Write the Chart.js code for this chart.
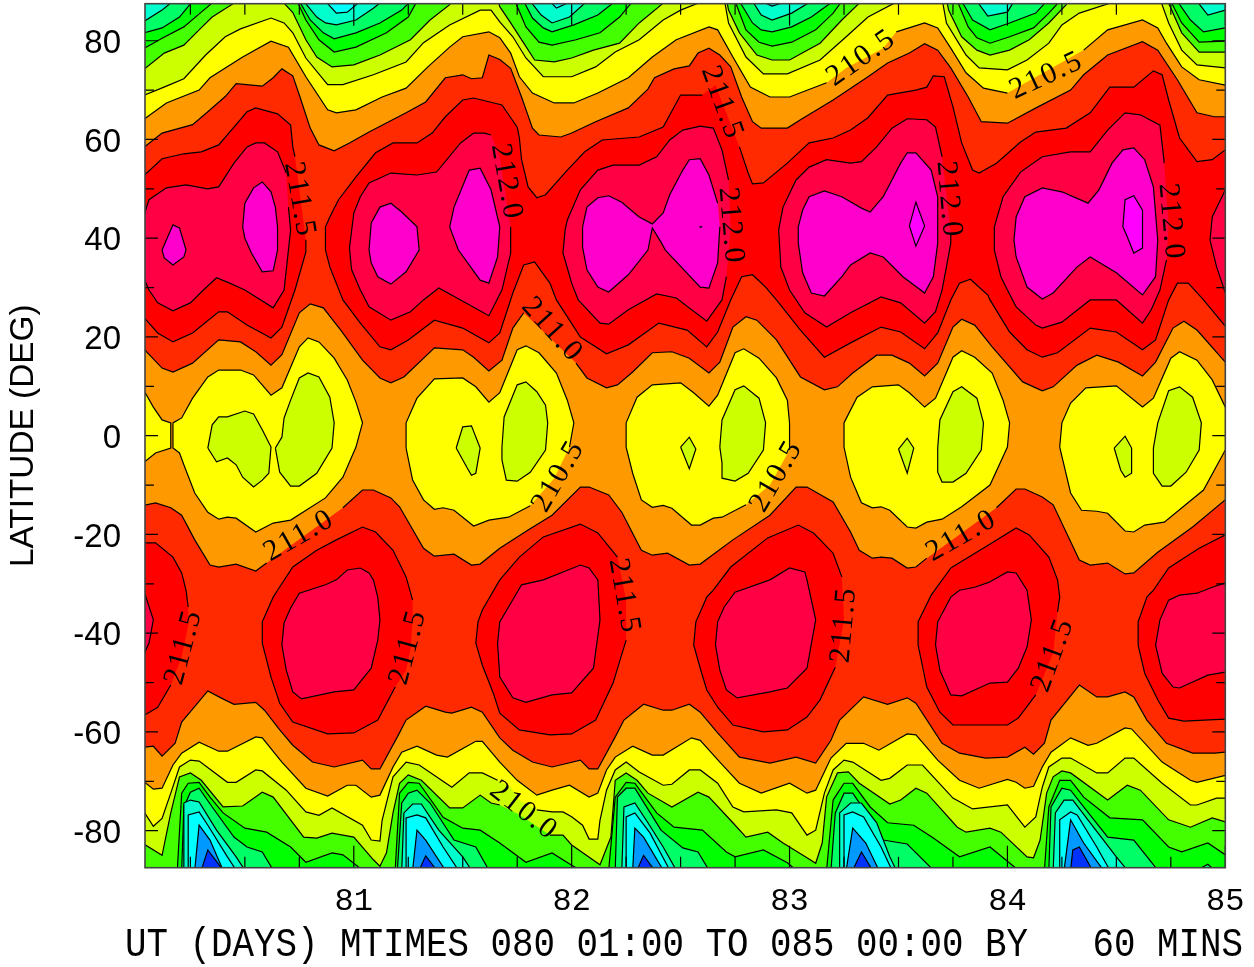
<!DOCTYPE html>
<html lang="en">
<head>
<meta charset="UTF-8">
<title>Latitude vs UT contours</title>
<script src="https://cdn.jsdelivr.net/npm/chart.js"></script>
<style>
  html, body { margin: 0; padding: 0; background: #fff; }
  canvas { display: block; }
</style>
</head>
<body>
<canvas id="chart" width="1254" height="967"></canvas>
<script>
// axis ticks
const dayLabels = [81, 82, 83, 84, 85];
const latLabels = [-80, -60, -40, -20, 0, 20, 40, 60, 80];
const dayMinor = [80.25, 80.5, 80.75, 81.25, 81.5, 81.75, 82.25, 82.5, 82.75, 83.25, 83.5, 83.75, 84.25, 84.5, 84.75];
const latMinor = [-70, -50, -30, -10, 10, 30, 50, 70];

// contour labels: text, day, lat, rotation
const labelText = ['210.5','210.5','211.5','212.0','211.5','212.0','212.0','212.0','211.0','211.0','210.5','210.5','211.0','211.5','211.5','211.5','211.5','211.5','210.0'];
const labelDay = [83.33,84.18,80.75,81.70,82.69,82.73,83.73,84.75,81.91,80.75,81.94,82.94,83.79,82.24,80.22,81.25,83.25,84.21,81.78];
const labelLat = [76.5,72.9,47.8,51.4,67.4,42.5,47.8,43.3,21.4,-20.3,-8.2,-8.2,-20.3,-32.5,-42.8,-42.8,-38.3,-44.4,-76];
const labelRot = [-35,-25,80,80,70,85,85,85,48,-30,-60,-60,-30,80,-75,-75,-85,-70,38];

// north side contours, left to right (day, lat, day, lat ...)
const nOrange = [80.04,58.5,80.12,61.3,80.26,63,80.33,65.6,80.41,68.7,80.46,71.3,80.58,70.8,80.63,72.5,80.67,74.3,80.72,72.9,80.75,69,80.8,62.3,80.84,58.9,80.91,57.7,80.98,59.3,81.07,61.5,81.24,65.4,81.33,67.6,81.42,72.5,81.5,73.1,81.54,72.3,81.59,72.5,81.62,77.1,81.67,76.2,81.72,74.4,81.77,68.6,81.82,62.3,81.85,60.9,81.95,60.5,82,61.3,82.11,63.6,82.26,66.4,82.35,70.2,82.38,72.5,82.47,74.3,82.54,74.9,82.58,77.5,82.63,78.5,82.68,77.1,82.73,74.7,82.78,68.6,82.83,63.6,82.87,62.3,82.99,62.3,83.05,64,83.2,68,83.36,72.7,83.45,75.5,83.55,77.5,83.62,79.4,83.68,78.1,83.74,74.5,83.82,68.6,83.88,63.6,84,63.3,84.14,66.6,84.29,70,84.35,73.1,84.46,77.1,84.62,79.8,84.69,78.1,84.78,72.1,84.87,65.4,84.95,64.6,85,64.6];
const nYellow = [80.04,64.2,80.14,67.4,80.29,70,80.34,72.5,80.49,76.7,80.62,79.9,80.7,78.7,80.78,72.7,80.88,66,80.92,65.4,81.01,66,81.13,68.6,81.24,70.4,81.34,74.7,81.44,78.7,81.5,80.8,81.62,81.8,81.67,80.6,81.72,77.5,81.76,72.7,81.82,69.4,81.92,67.4,82.01,67.4,82.12,69.4,82.26,72.5,82.37,76.7,82.48,80.2,82.63,82.8,82.67,82.2,82.74,76.7,82.82,70.6,82.91,68.6,83,68.6,83.17,71.5,83.26,74.5,83.43,78.5,83.49,81.8,83.62,83.6,83.68,82.6,83.74,78.5,83.81,73.5,83.89,70.4,84,69.4,84.35,78.1,84.46,82.2,84.62,84.2,84.69,82.6,84.73,79.5,84.8,74.7,84.88,72.1,85,71];
const nYellowGreen = [80.04,69,80.14,70.8,80.22,72.3,80.32,77.1,80.41,80.8,80.48,82.4,80.62,84.6,80.68,83.6,80.72,81.6,80.78,76.5,80.88,71.1,80.95,71.1,81.09,73.1,81.24,75.7,81.32,79.6,81.44,83.2,81.58,86.2,81.63,86.2,81.67,83.8,81.73,80.8,81.79,76.5,81.87,72.7,82,72.7,82.11,74.7,82.2,77.7,82.31,80.2,82.42,84.2,82.5,86.2,82.58,87.6,82.63,88.5,82.7,88.5,82.72,83.6,82.8,76.7,82.88,73.3,82.99,73.3,83.14,76.1,83.26,80.8,83.36,84.8,83.48,87.6,83.5,88.5,83.7,88.5,83.72,83.6,83.81,77.1,83.87,74.5,84,74.1,84.09,76.1,84.19,79.5,84.25,83.2,84.33,85.6,84.47,87.6,84.5,88.5,84.7,88.5,84.74,83.6,84.8,78.1,84.87,75.1,85,74.5];
const nLime = [80.04,74.3,80.13,77.5,80.22,79.1,80.29,82.2,80.35,84.8,80.45,87.6,80.46,88.5,80.67,88.5,80.68,87.6,80.72,85.7,80.78,80.2,80.83,76.7,80.9,74.7,81,75.1,81.12,77.1,81.26,80.2,81.35,84.2,81.44,87.3,81.45,88.5,81.66,88.5,81.67,86.9,81.72,83.6,81.78,79.5,81.83,76.1,81.92,75.7,82,76.5,82.1,78.1,82.22,79.5,82.31,83.6,82.42,87.6,82.43,88.5,82.71,88.5,82.72,86.2,82.77,81.6,82.85,77.1,82.92,76.1,83,76.1,83.14,79.5,83.24,84.2,83.32,87.6,83.33,88.5,83.72,88.5,83.73,86.2,83.79,80.8,83.86,78.1,83.92,77.1,84.01,78.1,84.1,80.2,84.19,83.6,84.27,87.3,84.28,88.5,84.73,88.5,84.74,87.6,84.8,81.6,84.88,77.7,85,77.7];
const nBandLower = [80.04,17.4,80.12,13.7,80.17,12.9,80.26,14.7,80.38,19.4,80.48,19,80.55,17,80.62,14.3,80.67,16.4,80.75,24.9,80.8,26.7,80.86,25.9,80.94,21.4,81.04,15.3,81.12,11.7,81.17,10.7,81.23,11.9,81.37,17.8,81.5,17.4,81.55,15.9,81.62,13.1,81.68,15.3,81.73,21.8,81.78,24.9,82.02,14.7,82.07,11.7,82.16,9.7,82.21,10.3,82.28,12.9,82.37,16.8,82.46,17,82.54,15.7,82.63,12.7,82.68,14.9,82.74,22,82.8,24.1,82.85,23.4,82.94,19.4,83.05,11.9,83.16,9.3,83.22,9.9,83.29,12.7,83.4,16.3,83.47,16.3,83.55,14.7,83.62,12.1,83.68,14.7,83.75,22,83.79,23.6,83.85,22.4,83.93,18,84.07,10.9,84.16,9.1,84.21,9.9,84.32,14.3,84.41,16.3,84.51,14.9,84.62,12.1,84.68,14.9,84.76,21.8,84.81,23.2,84.87,21.4,85,14.9];

// hanging cold tongues at the top
const nGreen = [
  [80,78.5,80.04,78.5,80.12,80.5,80.22,82.8,80.3,85.8,80.36,88,80,88],
  [80.74,88,80.78,84.2,80.84,80.2,80.91,77.7,81.01,78.7,81.15,81.6,81.25,84.8,81.29,88],
  [81.74,88,81.79,82.8,81.85,79.7,81.91,79.1,82.02,80.2,82.13,81.6,82.22,84.8,82.28,88],
  [82.75,88,82.8,82.2,82.86,79.7,82.92,78.9,83.01,79.7,83.12,82.2,83.2,85.6,83.24,88],
  [83.77,88,83.82,82.8,83.86,80.6,83.92,79.5,84.01,80.8,84.12,82.6,84.19,85.6,84.24,88],
  [84.75,88,84.8,83.6,84.88,79.7,85,79.9,85.05,79.9,85.05,88]
];
const nSpring = [
  [80,81.6,80.04,81.6,80.12,82.6,80.2,84.8,80.26,88,80,88],
  [80.75,88,80.8,84.2,80.86,81.6,80.91,80.4,81.01,81.6,81.12,83.6,81.22,86.2,81.26,88],
  [81.78,88,81.82,84.6,81.87,82.6,81.91,81.8,82.01,83.2,82.12,85.2,82.2,88],
  [82.77,88,82.83,83.6,82.87,82.2,82.92,81.8,83.01,82.8,83.1,84.8,83.2,88],
  [83.79,88,83.84,84.2,83.92,82.2,84.01,83.6,84.13,85.6,84.18,88],
  [84.78,88,84.84,84.2,84.9,81.8,85,82.6,85.05,82.6,85.05,88]
];
const nAqua = [
  [80,84,80.04,84,80.12,86.2,80.17,88,80,88],
  [80.77,88,80.83,84.8,80.87,83.6,80.92,83.2,81.01,84.2,81.09,86.6,81.13,88],
  [81.81,88,81.86,85.2,81.91,83.6,81.99,84.8,82.07,88],
  [82.83,88,82.87,85.2,82.92,84.2,83.01,85.6,83.1,88],
  [83.86,88,83.91,85,84,85.8,84.03,88],
  [84.87,88,84.92,85.2,85,86.2,85.05,86.2,85.05,88]
];
const nCyan = [
  [80.87,88,80.92,85.6,80.97,85.8,81.03,88],
  [81.9,88,81.93,86.6,82,88],
  [82.87,88,82.92,87,82.99,88]
];

// north warm belt
const redNorth = [
  [80,52.8,80.04,52.8,80.12,56.1,80.22,57.1,80.3,57.5,80.38,58.9,80.45,62.5,80.51,65.6,80.55,66.4,80.65,65.2,80.71,62.9,80.72,58.5,80.73,56.5,80.75,49.8,80.78,39.7,80.78,37.2,80.73,29.5,80.67,22,80.62,19.8,80.51,22.4,80.42,25.1,80.38,25.1,80.26,20.8,80.17,19,80.1,20.8,80.04,23.8,80,23.8],
  [80.87,37.6,80.87,42.3,80.89,44.3,80.93,47.8,81.01,52.4,81.1,57.3,81.18,59.3,81.29,59.3,81.36,61.3,81.42,64.6,81.5,68,81.55,68.4,81.68,67,81.75,62.5,81.76,60.3,81.77,55.9,81.8,50.4,81.84,48.2,81.88,48.8,81.98,53.8,82.06,57.5,82.14,59.9,82.31,60.5,82.42,62.5,82.5,69,82.6,69,82.66,71,82.77,58.5,82.81,53.2,82.83,51,82.88,51.2,82.99,55.2,83.09,59.3,83.2,60.3,83.28,61.9,83.36,64.4,83.45,69,83.58,70,83.63,70.6,83.66,72.9,83.71,72.7,83.75,66.6,83.79,59.3,83.84,53.8,83.87,53.2,83.95,55.2,84.06,59.5,84.13,61.5,84.27,62.3,84.38,65.4,84.47,70.6,84.58,70.6,84.67,73.9,84.71,73.1,84.74,68,84.79,60.3,84.87,55.5,84.94,55.9,85,57.9,85.05,57.9,85.05,22,85,22.2,84.9,27.5,84.83,30.9,84.78,30.9,84.74,27.5,84.68,19.4,84.62,17.4,84.5,21,84.38,21.8,84.23,16.8,84.16,15.9,84.09,17.4,84.01,21,83.92,27.5,83.91,28.5,83.83,31.7,83.78,30.9,83.74,27.5,83.68,20.8,83.62,17.6,83.51,21,83.42,22,83.28,18.8,83.16,15.9,83.05,21.4,82.94,27.5,82.89,30.1,82.83,32.6,82.78,32.2,82.73,27.5,82.67,21,82.62,18,82.53,21.4,82.4,22.8,82.26,18.4,82.16,16.6,82.04,20,81.93,27.5,81.9,30.9,81.83,35.2,81.78,34.6,81.73,28.9,81.67,20.8,81.62,18.8,81.5,21.8,81.37,23.4,81.25,19.4,81.17,17.4,81.12,18,81.03,22.8,80.95,27.5,80.89,34.2]
];
const roseNorth = [
  [80,45.1,80.04,45.1,80.06,47.8,80.14,50.2,80.23,50.8,80.33,50,80.38,50.4,80.45,55.2,80.51,58.5,80.55,59.3,80.59,59.3,80.65,57.5,80.69,53.2,80.7,46.3,80.71,41.7,80.7,37.6,80.68,29.5,80.63,25.9,80.5,29.5,80.43,30.9,80.37,32,80.31,29.5,80.25,26.9,80.17,25.3,80.1,26.9,80.06,29.5,80.04,31.5,80,31.5],
  [80.98,38,81,45.1,81.03,48.4,81.07,51.2,81.17,53.2,81.29,52.8,81.38,53.4,81.49,59.3,81.55,61.3,81.6,61.3,81.63,60.9,81.67,56.5,81.7,47.8,81.72,42.3,81.72,37,81.68,29.5,81.62,24.3,81.49,27.5,81.39,29.9,81.32,27.5,81.26,25.1,81.17,23.4,81.07,26.1,81.03,29.5,80.99,33.6],
  [81.97,41.7,81.98,43.7,82.04,49.8,82.12,53.8,82.19,54.8,82.31,54.8,82.39,56.5,82.45,59.9,82.51,61.9,82.59,62.7,82.65,62.3,82.69,57.9,82.72,51.8,82.73,42.3,82.71,32.2,82.69,27.5,82.62,23.2,82.48,27.9,82.39,28.7,82.26,25.5,82.17,22.6,82.13,22.8,82.03,27.5,82,30.9,81.96,37],
  [82.95,41.7,82.97,46.3,83.03,51.8,83.09,54.4,83.17,55.9,83.28,55.2,83.33,55.5,83.4,58.5,83.47,62.3,83.54,64.2,83.63,64,83.67,62.5,83.7,56.5,83.74,41.1,83.74,39,83.72,34.2,83.7,29.5,83.67,25.1,83.62,22.8,83.51,26.9,83.42,28.1,83.28,24.9,83.17,22,83.07,24.9,83,29.5,82.96,34.2],
  [83.94,42.3,83.98,48.4,84.06,53.4,84.16,56.5,84.29,57.5,84.38,57.5,84.46,61.9,84.54,65.4,84.61,65,84.7,62.9,84.72,55.2,84.74,42.3,84.73,35.6,84.7,29.5,84.66,25.5,84.62,22.8,84.5,27.5,84.38,27.5,84.25,23,84.16,21.8,84.13,22.4,84.04,26.1,84,29.5,83.97,32.2,83.94,37.6],
  [85.05,49.8,85,49.8,84.94,44.3,84.93,39.6,84.96,34.2,85,28.9,85.05,28.9]
];
const magentaNorth = [
  [80.12,37.6,80.17,42.7,80.2,42.1,80.23,37.6,80.22,36.2,80.17,34.6,80.13,36],
  [80.49,42.3,80.5,47.1,80.54,50.2,80.58,51.4,80.62,49.4,80.64,46.3,80.65,42.3,80.65,37.6,80.63,33.4,80.58,33.2,80.53,37,80.5,40],
  [81.07,37.6,81.08,43.1,81.12,46.3,81.17,47.1,81.22,45.3,81.29,42.3,81.3,37.6,81.24,33.2,81.17,30.7,81.11,32.2,81.08,35],
  [81.44,42.3,81.46,46.3,81.53,53.8,81.58,54.2,81.63,49.8,81.67,42.3,81.66,36.2,81.62,30.9,81.58,31.5,81.48,37.6],
  [82.05,42.3,82.07,46.3,82.12,48.2,82.17,48.6,82.23,47.3,82.31,44.3,82.37,42.9,82.42,45.1,82.45,48.8,82.51,53.8,82.54,55.9,82.59,56.1,82.63,52.8,82.67,47.1,82.68,42.3,82.67,35,82.63,29.9,82.59,30.1,82.43,37.6,82.41,39.2,82.37,42.1,82.35,37.6,82.26,32.6,82.17,29.1,82.12,30.1,82.07,33.6,82.05,38.2],
  [83.04,42.3,83.06,45.7,83.09,48.4,83.16,49.6,83.24,48.4,83.33,46.1,83.37,45.3,83.43,48.4,83.51,55.2,83.54,57.3,83.58,57.3,83.65,53.8,83.68,48.4,83.68,39,83.66,32.2,83.62,28.9,83.52,32.2,83.43,36.2,83.37,37,83.28,34.6,83.24,32.2,83.16,28.3,83.1,28.9,83.06,33,83.04,39],
  [84.03,39.6,84.04,44.3,84.08,48.4,84.16,50.2,84.25,49.4,84.37,47.1,84.42,49.8,84.48,55.2,84.53,57.9,84.58,58.3,84.63,55.9,84.67,50.4,84.69,39.6,84.68,32.2,84.62,28.5,84.5,33,84.38,36.2,84.32,34.2,84.21,28.9,84.16,27.7,84.09,30.1,84.04,36.2]
];
const brightNorth = [
  [82.59,42.4,82.595,42.3,82.59,42.2],
  [83.55,42.5,83.58,47.3,83.62,42.5,83.58,38.4],
  [84.53,42.3,84.54,47.8,84.58,48.6,84.62,45.7,84.62,42.3,84.62,38,84.58,37,84.55,40.3]
];

// equator
const yellowEquator = [
  [80,8.9,80.04,8.9,80.08,5.8,80.12,3.2,80.16,2.6,80.16,-2.5,80.09,-3.5,80.04,-5.3,80,-5.3],
  [80.17,2.6,80.21,3.6,80.26,7.6,80.33,11.9,80.38,13.3,80.48,13.3,80.54,12.3,80.62,8.2,80.67,9.7,80.75,18,80.79,19.8,80.84,19,80.91,15.7,80.97,11.3,81.01,6.8,81.04,2.6,81.01,-2.3,80.95,-8.4,80.87,-12.6,80.71,-17.1,80.63,-17.7,80.55,-19.5,80.46,-16.7,80.42,-16.5,80.38,-16.9,80.33,-15.5,80.27,-11.6,80.22,-5.9,80.2,-3.5,80.17,-2.5],
  [81.24,-2.5,81.24,2.6,81.29,7.6,81.37,11.5,81.5,11.7,81.56,9.9,81.62,6.8,81.67,8.7,81.75,17.4,81.79,18.2,81.85,16.8,81.93,12.7,81.98,7.2,82.01,2.6,81.99,-2.3,81.92,-8.6,81.81,-14.2,81.71,-16.5,81.62,-17.1,81.55,-18.3,81.46,-15.1,81.41,-14.6,81.37,-14.9,81.32,-13,81.27,-9],
  [82.25,2.6,82.25,-2.3,82.28,-7.6,82.32,-13,82.37,-14.5,82.42,-14.1,82.46,-14.7,82.55,-18.1,82.59,-18.1,82.65,-16.7,82.69,-16.5,82.8,-14,82.91,-10,83,-2.9,83,2.6,82.99,7.2,82.94,11.7,82.86,15.7,82.79,17.6,82.75,16.8,82.67,8.2,82.63,6,82.56,8.7,82.5,10.7,82.37,10.3,82.3,7.8],
  [83.25,2.6,83.25,-2.3,83.28,-8.4,83.33,-13.6,83.38,-14.6,83.42,-14.4,83.46,-15.1,83.54,-18.5,83.58,-18.7,83.63,-17.5,83.7,-16.9,83.79,-14.4,83.92,-10,84,-2.3,84.01,2.6,83.98,7.2,83.93,12.7,83.85,15.9,83.79,17.2,83.75,15.9,83.67,7.6,83.62,5.8,83.55,8.7,83.5,10.3,83.38,9.9,83.31,7.8],
  [84.24,-2.3,84.25,2.6,84.29,6.6,84.36,9.7,84.5,10.1,84.62,5.8,84.67,7.6,84.75,15.7,84.79,17,84.87,15.3,84.94,11.3,85,5.8,85.05,5.8,85.05,-2.9,85,-2.9,84.9,-11,84.72,-17.5,84.63,-18.1,84.58,-19.5,84.54,-19.3,84.46,-15.7,84.41,-15.3,84.34,-15.1,84.29,-11.6]
];
const yellowGreenEquator = [
  [80.33,-2.5,80.35,2.2,80.38,3.8,80.42,3.8,80.5,5,80.54,4.4,80.58,1.2,80.62,-2.3,80.61,-7.6,80.58,-9,80.54,-10.4,80.49,-8.4,80.46,-5.9,80.42,-4.5,80.37,-5.3],
  [80.64,-2.5,80.67,-0.3,80.68,3.6,80.71,7.2,80.75,11.7,80.79,12.7,80.84,11.9,80.89,7.8,80.91,2.6,80.9,-2.5,80.83,-7.6,80.75,-10.2,80.71,-10.2,80.66,-7.4],
  [81.47,-2.5,81.5,1.8,81.54,2,81.58,-2.5,81.56,-7.6,81.54,-8,81.52,-6.5],
  [81.68,-2.3,81.69,3.8,81.75,10.3,81.79,10.9,81.84,8.9,81.88,6.2,81.89,2.6,81.88,-2.9,81.81,-7.4,81.75,-9.2,81.7,-9,81.68,-4.9],
  [82.5,-2.3,82.54,-0.3,82.57,-2.7,82.54,-6.7],
  [82.68,-2.3,82.69,3.2,82.75,9.3,82.79,10.1,82.86,7.6,82.89,2.6,82.88,-2.9,82.81,-7.6,82.75,-9.2,82.69,-8.6,82.69,-5.5],
  [83.5,-2.7,83.54,-0.5,83.57,-2.5,83.54,-7.6],
  [83.68,-2.5,83.69,3.2,83.75,8.9,83.79,9.9,83.86,7.6,83.89,2.6,83.88,-2.9,83.81,-7.6,83.75,-9.4,83.7,-9.4,83.68,-7.4],
  [84.49,-2.5,84.54,-0.1,84.57,-2.5,84.57,-7.6,84.54,-8.4,84.52,-7],
  [84.67,-2.5,84.69,2.6,84.74,9.1,84.79,9.9,84.85,7.8,84.89,2.6,84.88,-2.9,84.82,-7.4,84.75,-10.2,84.71,-10.2,84.67,-7.6]
];

// south warm belt
const sBandUpper = [80.04,-14.1,80.09,-13.6,80.16,-14.6,80.21,-16.1,80.27,-21.1,80.34,-26.2,80.38,-26.6,80.46,-26,80.55,-27.4,80.6,-25.8,80.95,-14.6,81.04,-11,81.09,-11,81.17,-12.6,81.21,-14.4,81.32,-22.8,81.37,-24.4,81.46,-24,81.54,-26.2,81.58,-26,81.67,-22.8,81.8,-19.1,81.91,-16.1,82.04,-10.4,82.08,-10.4,82.17,-12,82.23,-15.5,82.32,-23.2,82.37,-24.2,82.44,-23.8,82.54,-26.2,82.59,-26,82.74,-21.1,82.91,-16.1,83.03,-10.4,83.08,-10.4,83.2,-13.4,83.28,-19.5,83.32,-23.2,83.38,-24.8,83.42,-24.6,83.47,-24.8,83.54,-26.8,83.58,-26.6,83.63,-24.8,83.95,-14.6,84.04,-10.8,84.08,-10.8,84.16,-12.4,84.21,-14,84.33,-25.2,84.38,-26.2,84.46,-25.8,84.54,-28,84.58,-27.8,84.69,-23.6,84.85,-18.5,85,-13];
const sBandLower = [80.04,-63.1,80.08,-62.9,80.12,-64.9,80.18,-62.3,80.21,-58,80.33,-51.7,80.39,-53.1,80.45,-54.4,80.55,-54,80.59,-55.6,80.66,-59.6,80.72,-62.7,80.81,-66.1,80.91,-67.1,81.04,-65.7,81.08,-67.5,81.12,-67.5,81.2,-61,81.24,-57.6,81.33,-54.8,81.42,-56,81.45,-56.2,81.54,-55,81.59,-56,81.67,-61.2,81.73,-63.7,81.82,-66.1,81.91,-67.1,82.04,-65.7,82.08,-67.5,82.12,-67.5,82.2,-61,82.24,-57.6,82.33,-54.4,82.42,-55.6,82.46,-55.6,82.54,-54.4,82.59,-56,82.67,-60.2,82.77,-65.1,82.91,-66.3,83.03,-65.1,83.12,-66.3,83.19,-61.7,83.23,-57.6,83.34,-52.9,83.45,-54.4,83.54,-53.1,83.58,-54.2,83.7,-62.3,83.78,-64.3,83.9,-65.3,84,-65.1,84.08,-63.1,84.12,-64.5,84.17,-62.3,84.2,-57.6,84.33,-50.5,84.41,-52.9,84.46,-52.9,84.54,-51.9,84.58,-52.9,84.64,-57.6,84.73,-62.3,84.85,-64.3,84.95,-64.3,85,-64.1];
const redSouth = [
  [80,-21.7,80.04,-21.7,80.09,-21.7,80.17,-24.6,80.21,-27.8,80.23,-31.3,80.24,-34.7,80.24,-38.4,80.21,-44.8,80.16,-50.5,80.1,-55,80.04,-56.6,80,-56.6],
  [80.65,-31.3,80.72,-26.6,80.83,-23.2,80.92,-21.1,81.04,-18.5,81.1,-19.5,81.18,-23.2,81.24,-28.6,81.27,-33.3,81.27,-37.3,81.26,-43.4,81.24,-47.5,81.19,-50.9,81.11,-57.6,81,-60.2,80.88,-60.4,80.72,-58,80.66,-54.2,80.62,-48.9,80.58,-42,80.58,-37.7,80.63,-32.7],
  [81.67,-29.2,81.76,-24.6,81.87,-20.5,82.04,-17.9,82.12,-19.7,82.21,-24.6,82.25,-33.3,82.25,-41.4,82.19,-50.1,82.11,-57.6,82,-60.4,81.9,-60.6,81.76,-59.6,81.67,-56.2,81.64,-52.1,81.59,-46.5,81.56,-42,81.57,-37.7,81.59,-35.3],
  [82.65,-31.3,82.73,-26.6,82.9,-20.7,83.04,-18.1,83.11,-19.7,83.2,-23.8,83.24,-28.6,83.25,-37.3,83.21,-46.9,83.14,-53.5,83.08,-57,82.99,-59.6,82.88,-60,82.74,-58.6,82.67,-55,82.62,-51.5,82.59,-47.1,82.56,-42.4,82.57,-37.7,82.62,-32.7],
  [83.74,-26.8,83.93,-21.7,84.04,-18.7,84.1,-20.1,84.19,-24.6,84.23,-29.2,84.24,-32.7,84.23,-35.7,84.21,-44,84.13,-52.5,84.05,-57.2,84,-58.6,83.75,-58.6,83.69,-56,83.63,-50.9,83.59,-42.4,83.59,-37.7,83.65,-32.3],
  [84.67,-31.3,84.74,-26.8,84.88,-22.8,85,-20.1,85.05,-20.1,85.05,-57.4,85,-57.4,84.81,-57.8,84.74,-57.2,84.69,-53.5,84.63,-48.1,84.6,-42.4,84.6,-37.7,84.64,-32.7]
];
const roseSouth = [
  [80,-31.9,80.04,-31.9,80.08,-37.3,80.06,-42,80.04,-44,80,-44],
  [80.87,-30.2,80.75,-31.9,80.71,-34.9,80.68,-37.9,80.67,-42.4,80.69,-47.5,80.72,-51.9,80.76,-53.3,80.91,-51.9,81,-51.5,81.08,-47.1,81.11,-41.4,81.12,-37.3,81.11,-32.7,81.09,-29.2,81.07,-27.8,81.03,-26.8,80.97,-27.2,80.92,-29.2],
  [81.75,-31.7,81.77,-30.2,81.87,-29.2,82.04,-26.2,82.08,-26.8,82.12,-29.2,82.13,-37.3,82.1,-47.1,82,-52.1,81.91,-52.5,81.79,-54,81.73,-53.1,81.67,-48.9,81.66,-42,81.67,-37.7],
  [82.91,-29.2,83,-26.8,83.07,-27.6,83.08,-29.2,83.12,-37.3,83.08,-47.1,82.99,-51.1,82.91,-51.9,82.76,-53.1,82.71,-51.5,82.68,-47.5,82.66,-42.4,82.67,-37.7,82.7,-34.7,82.75,-31.7],
  [83.92,-29.6,84,-27.6,84.04,-27.8,84.09,-31.3,84.11,-37.3,84.09,-42.8,84.05,-47.1,84,-49.9,83.92,-50.1,83.79,-52.7,83.74,-52.5,83.69,-47.5,83.67,-42.4,83.68,-37.7,83.74,-32.7,83.78,-31.3,83.85,-30.7],
  [84.94,-30.7,85,-29.8,85.05,-29.8,85.05,-47.9,85,-47.9,84.92,-48.5,84.79,-51.1,84.76,-50.9,84.71,-48.1,84.68,-42.4,84.7,-37.3,84.74,-33.3,84.79,-32.3,84.87,-31.9]
];

// south side contours, left to right
const sYellow = [80.04,-70.2,80.08,-71.6,80.12,-71.4,80.17,-66.7,80.21,-64.3,80.29,-62.1,80.38,-63.9,80.42,-63.9,80.55,-61,80.58,-61.2,80.67,-66.1,80.78,-71.4,80.88,-73,80.97,-70.8,81.01,-70.8,81.08,-73.2,81.12,-72.8,81.18,-67.1,81.22,-64.1,81.29,-62.9,81.38,-64.7,81.43,-65.1,81.56,-61.9,81.59,-61.9,81.67,-66.1,81.75,-69.8,81.84,-72.8,81.91,-71.8,81.99,-70.8,82.08,-73.2,82.12,-72.4,82.16,-67.7,82.2,-65.1,82.28,-62.9,82.37,-64.7,82.42,-64.7,82.55,-61.2,82.59,-61.7,82.68,-66.1,82.77,-70.4,82.87,-72.4,83,-70.4,83.08,-72.4,83.12,-71.8,83.19,-65.3,83.26,-62.3,83.34,-62.3,83.41,-63.7,83.54,-60.4,83.58,-60.6,83.68,-65.7,83.78,-69.8,83.87,-71.4,84,-69.6,84.04,-70.2,84.08,-71.4,84.12,-71,84.16,-67.1,84.2,-64.1,84.29,-61.2,84.37,-62.7,84.41,-62.3,84.54,-59.2,84.57,-59.4,84.71,-66.1,84.84,-69.8,84.87,-70.2,85,-68.8];
const sYellowGreen = [80.04,-76.4,80.08,-79.1,80.12,-77.5,80.16,-72.4,80.2,-67.1,80.25,-65.7,80.29,-65.9,80.42,-70.2,80.46,-70.2,80.55,-67.7,80.58,-67.9,80.69,-71.8,80.78,-76.2,80.84,-76.9,80.9,-75.4,81.04,-78.9,81.08,-81.9,81.12,-82.1,81.13,-77.9,81.18,-69.1,81.24,-66.1,81.3,-66.7,81.45,-71.2,81.53,-68.3,81.59,-68.3,81.66,-69.8,81.72,-71.2,81.76,-73.8,81.84,-75.8,81.91,-76.2,81.96,-76.2,82,-77.2,82.05,-78.9,82.08,-81.7,82.12,-81.7,82.13,-77.9,82.16,-71.8,82.2,-67.7,82.25,-66.1,82.31,-68.1,82.42,-70.8,82.46,-70.6,82.54,-67.7,82.59,-67.7,82.67,-70.4,82.74,-75.2,82.79,-76.2,82.94,-75.8,83.01,-76.4,83.08,-80.9,83.12,-79.9,83.16,-72.4,83.2,-67.7,83.25,-65.7,83.29,-66.1,83.42,-69.8,83.46,-69.4,83.54,-66.7,83.61,-66.7,83.75,-73.4,83.84,-75.6,84,-74.8,84.08,-79.3,84.13,-77.2,84.16,-71.2,84.19,-67.1,84.25,-65.3,84.29,-65.3,84.41,-68.3,84.46,-68.3,84.54,-65.3,84.58,-65.3,84.71,-70.4,84.84,-74.8,84.87,-74.8,84.96,-73.4,85,-73.4];
const sLime = [80.04,-82.8,80.12,-85,80.16,-76.4,80.2,-69.1,80.25,-68.3,80.3,-69.8,80.4,-75.2,80.49,-75,80.58,-72.2,80.63,-73.2,80.77,-81.3,80.83,-81.5,80.9,-80.5,81,-81.3,81.09,-85.9,81.12,-87.2,81.15,-84.5,81.18,-76.4,81.21,-70.4,81.25,-68.7,81.31,-69.8,81.44,-75.4,81.5,-75.4,81.58,-72.8,81.63,-74.4,81.67,-74.8,81.76,-76.8,81.9,-80.9,81.96,-80.9,82,-82.9,82.13,-86.9,82.18,-81.3,82.2,-69.8,82.25,-68.3,82.3,-69.8,82.35,-72.4,82.46,-75.2,82.58,-72.2,82.63,-73.2,82.74,-78.4,82.8,-81.3,82.9,-80.3,82.97,-82.5,83.08,-85.5,83.12,-86.6,83.15,-82.5,83.17,-73.2,83.22,-68.3,83.27,-68.1,83.32,-70.4,83.46,-74.6,83.51,-73.8,83.58,-71.4,83.63,-72.4,83.77,-79.3,83.81,-80.3,83.92,-79.5,83.97,-80.3,84.09,-85.3,84.12,-85.5,84.15,-81.9,84.18,-72.4,84.21,-69.1,84.25,-67.9,84.29,-68.3,84.46,-73.8,84.55,-70.8,84.61,-71.8,84.74,-77.8,84.84,-79.3,84.94,-77.4,85,-78.2];

// cold tongues at the bottom
const sGreen = [
  [80.19,-88,80.21,-72.4,80.24,-70.4,80.29,-70.2,80.34,-73.2,80.4,-76.4,80.5,-79.5,80.6,-80.3,80.71,-83.3,80.78,-86.4,80.9,-84.5,80.95,-84.9,81.04,-88],
  [81.19,-88,81.21,-72.4,81.25,-70.2,81.3,-70.4,81.41,-77.3,81.5,-79.5,81.58,-79.9,81.67,-82.5,81.79,-86.4,81.91,-84.5,82,-87,82.04,-88],
  [82.17,-88,82.2,-73.2,82.25,-70.2,82.29,-70.4,82.39,-76.4,82.47,-79.3,82.6,-79.9,82.71,-84.3,82.75,-85.3,82.88,-83.9,82.99,-86.5,83.03,-88],
  [83.17,-88,83.2,-73.8,83.25,-70.4,83.29,-70.4,83.37,-75.2,83.45,-78.4,83.57,-78.9,83.66,-81.5,83.78,-85.3,83.92,-83.3,84.05,-88],
  [84.17,-88,84.19,-75.2,84.24,-69.8,84.29,-69.8,84.35,-73.2,84.47,-77.4,84.62,-77.8,84.74,-83.3,84.8,-84.3,84.92,-82.5,85,-84.9,85.05,-84.9,85.05,-88]
];
const sSpring = [
  [80.21,-88,80.22,-75.2,80.25,-72.2,80.29,-71.4,80.35,-75.2,80.45,-81.3,80.51,-83.3,80.58,-84.3,80.63,-88],
  [81.2,-88,81.22,-74.4,81.25,-72.4,81.29,-71.8,81.35,-74.4,81.46,-81.9,81.56,-83.3,81.62,-88],
  [82.2,-88,82.21,-73.2,82.25,-71.4,82.29,-71.4,82.41,-79.9,82.51,-83.5,82.58,-84.3,82.63,-88],
  [83.19,-88,83.21,-76.4,83.25,-72.4,83.29,-72.4,83.4,-79.5,83.43,-81.9,83.54,-82.7,83.66,-88],
  [84.19,-88,84.2,-75.2,84.25,-71.4,84.29,-71.8,84.35,-75.2,84.46,-81.3,84.58,-81.9,84.69,-88],
  [84.87,-88,84.92,-86.8,84.95,-88]
];
const sAqua = [
  [80.22,-88,80.22,-74.4,80.25,-73.8,80.29,-74.2,80.37,-79.9,80.46,-85.3,80.5,-88],
  [81.22,-88,81.23,-76.4,81.27,-74.6,81.31,-74.6,81.39,-79.9,81.5,-85.3,81.54,-88],
  [82.23,-88,82.24,-75.2,82.29,-74.4,82.35,-78.4,82.42,-83.3,82.48,-88],
  [83.23,-88,83.23,-76.4,83.28,-74.4,83.33,-74.4,83.4,-78.4,83.46,-85.3,83.49,-88],
  [84.21,-88,84.22,-76.4,84.26,-73.8,84.3,-73.8,84.38,-78.4,84.5,-85.3,84.55,-88]
];
const sCyan = [
  [80.24,-88,80.24,-76.8,80.29,-76.2,80.33,-78.9,80.42,-85.3,80.46,-88],
  [81.24,-88,81.24,-77.4,81.29,-76.8,81.33,-77.4,81.41,-83.3,81.48,-88],
  [82.25,-88,82.25,-77.2,82.29,-76.4,82.36,-80.5,82.45,-88],
  [83.25,-88,83.25,-76.8,83.29,-76.2,83.34,-77.2,83.42,-83.3,83.47,-88],
  [84.24,-88,84.24,-77.8,84.29,-76.2,84.32,-76.8,84.41,-83.3,84.47,-88]
];
const sBlue = [
  [80.27,-88,80.29,-78.9,80.34,-81.9,80.4,-88],
  [81.27,-88,81.29,-79.9,81.33,-81.9,81.42,-88],
  [82.28,-88,82.29,-79.5,82.33,-81.3,82.42,-88],
  [83.26,-88,83.29,-79.5,83.35,-82.5,83.41,-88],
  [84.26,-88,84.29,-77.8,84.35,-82.5,84.44,-88]
];
const sDeepBlue = [
  [80.3,-88,80.33,-83.9,80.4,-88],
  [81.3,-88,81.33,-85.1,81.38,-88],
  [82.3,-88,82.33,-85,82.38,-88],
  [83.29,-88,83.33,-84.3,83.38,-88],
  [84.29,-88,84.3,-83.9,84.33,-83.3,84.39,-88]
];

const wholeField = [80, 89, 85.05, 89, 85.05, -89, 80, -89];

const ORANGE = '#ff9900', YELLOW = '#ffff00', YGREEN = '#ccff00', LIME = '#44ff00', GREEN = '#00ff00',
      SPRING = '#00ff66', AQUA = '#00ffcc', CYAN = '#00ffff', BLUE = '#0099ff', DEEP = '#0033ff',
      REDOR = '#ff2a00', RED = '#ff0000', ROSE = '#ff0044', MAGENTA = '#ff00cc', BRIGHT = '#ff00ff';

function reversePairs(flat) {
  const out = [];
  for (let i = flat.length - 2; i >= 0; i -= 2) out.push(flat[i], flat[i + 1]);
  return out;
}
// open a left-to-right contour to the edge of the field
function toLat(flat, lat) {
  return [80, flat[1], ...flat, 85.05, flat[flat.length - 1], 85.05, lat, 80, lat];
}
function band(upper, lower) {
  return [80, upper[1], ...upper, 85.05, upper[upper.length - 1], 85.05, lower[lower.length - 1], ...reversePairs(lower), 80, lower[1]];
}

const layers = [[ORANGE, [wholeField]], [REDOR, [band(nOrange, nBandLower), band(sBandUpper, sBandLower)]],
  [RED, redNorth], [ROSE, roseNorth], [MAGENTA, magentaNorth], [BRIGHT, brightNorth],
  [RED, redSouth], [ROSE, roseSouth],
  [YELLOW, yellowEquator], [YGREEN, yellowGreenEquator],
  [YELLOW, [toLat(nYellow, 89), toLat(sYellow, -89)]],
  [YGREEN, [toLat(nYellowGreen, 89), toLat(sYellowGreen, -89)]],
  [LIME, [toLat(nLime, 89), toLat(sLime, -89)]],
  [GREEN, nGreen], [SPRING, nSpring], [AQUA, nAqua], [CYAN, nCyan],
  [GREEN, sGreen], [SPRING, sSpring], [AQUA, sAqua], [CYAN, sCyan], [BLUE, sBlue], [DEEP, sDeepBlue]];

function toPoints(flat) {
  const pts = [];
  for (let i = 0; i < flat.length; i += 2) pts.push({ x: flat[i], y: flat[i + 1] });
  return pts;
}

// contour lines stop under their labels
function gapColor(ctx) {
  const sx = ctx.chart.scales.x, sy = ctx.chart.scales.y;
  const mx = (ctx.p0.x + ctx.p1.x) / 2, my = (ctx.p0.y + ctx.p1.y) / 2;
  for (let i = 0; i < labelText.length; i++) {
    const dx = mx - sx.getPixelForValue(labelDay[i]), dy = my - sy.getPixelForValue(labelLat[i]);
    const a = labelRot[i] * Math.PI / 180;
    const along = dx * Math.cos(a) + dy * Math.sin(a), across = -dx * Math.sin(a) + dy * Math.cos(a);
    if (Math.abs(along) < 38 && Math.abs(across) < 11) return 'rgba(0,0,0,0)';
  }
  return undefined;
}

const datasets = [];
layers.forEach(([color, polys]) => {
  polys.forEach(flat => {
    const pts = toPoints(flat);
    datasets.push({ data: pts, showLine: true, fill: 'shape', backgroundColor: color, borderWidth: 0, pointRadius: 0, tension: 0 });
    datasets.push({ data: [...pts, pts[0]], showLine: true, fill: false, borderColor: '#000', borderWidth: 1.2, pointRadius: 0, tension: 0, segment: { borderColor: gapColor } });
  });
});
// later layers paint over earlier ones
datasets.forEach((d, i) => { d.order = datasets.length - i; });

const contourLabels = {
  id: 'contourLabels',
  afterDatasetsDraw(chart) {
    const { ctx, scales: { x, y } } = chart;
    ctx.save();
    ctx.fillStyle = '#000';
    ctx.font = '30px "Liberation Serif"';
    ctx.letterSpacing = '2px';
    ctx.textAlign = 'center';
    ctx.textBaseline = 'middle';
    labelText.forEach((t, i) => {
      ctx.save();
      ctx.translate(x.getPixelForValue(labelDay[i]), y.getPixelForValue(labelLat[i]));
      ctx.rotate(labelRot[i] * Math.PI / 180);
      ctx.fillText(t, 0, 0);
      ctx.restore();
    });
    ctx.restore();
  }
};

// inward ticks on all four sides plus the frame
const frameTicks = {
  id: 'frameTicks',
  beforeDraw(chart) {
    // the x title is wider than the plot, it runs from 125 to 1243
    const x = chart.scales.x;
    x._plotLeft = x.left;
    x._plotRight = x.right;
    x.left = 125;
    x.right = 1243;
  },
  beforeDatasetsDraw(chart) {
    // datasets clip to the scale box, so put it back once the axes are drawn
    const x = chart.scales.x;
    x.left = x._plotLeft;
    x.right = x._plotRight;
  },
  afterDatasetsDraw(chart) {
    const { ctx, chartArea: a, scales: { x, y } } = chart;
    ctx.save();
    ctx.strokeStyle = '#000';
    ctx.lineWidth = 1.2;
    ctx.beginPath();
    const xMarks = (vals, len) => vals.forEach(v => {
      const px = x.getPixelForValue(v);
      ctx.moveTo(px, a.top); ctx.lineTo(px, a.top + len);
      ctx.moveTo(px, a.bottom); ctx.lineTo(px, a.bottom - len);
    });
    const yMarks = (vals, len) => vals.forEach(v => {
      const py = y.getPixelForValue(v);
      ctx.moveTo(a.left, py); ctx.lineTo(a.left + len, py);
      ctx.moveTo(a.right, py); ctx.lineTo(a.right - len, py);
    });
    xMarks(dayLabels, 22); xMarks(dayMinor, 11);
    yMarks(latLabels, 13); yMarks(latMinor, 9);
    ctx.stroke();
    ctx.strokeStyle = '#444';
    ctx.lineWidth = 1.6;
    ctx.strokeRect(a.left, a.top, a.right - a.left, a.bottom - a.top);
    ctx.restore();
  }
};

function noOverhang(s) {
  s.paddingLeft = s.paddingRight = s.paddingTop = s.paddingBottom = 0;
}

new Chart(document.getElementById('chart'), {
  type: 'scatter',
  data: { datasets },
  plugins: [contourLabels, frameTicks],
  options: {
    responsive: false,
    animation: false,
    events: [],
    layout: { padding: { left: 0, top: 3.7, right: 28.7, bottom: 0 } },
    plugins: { legend: { display: false }, tooltip: { enabled: false } },
    scales: {
      x: {
        type: 'linear',
        min: 80.04167,
        max: 85,
        afterBuildTicks: s => { s.ticks = dayLabels.map(v => ({ value: v })); },
        afterFit: s => { s.height = 967 - 867.7; noOverhang(s); },
        grid: { display: false },
        border: { display: false },
        ticks: { color: '#000', padding: 7, maxRotation: 0, autoSkip: false, font: { family: '"Liberation Mono"', size: 32 }, callback: v => String(v) },
        title: { display: true, text: 'UT (DAYS) MTIMES 080 01:00 TO 085 00:00 BY   60 MINS', color: '#000', padding: { top: 0, bottom: 0 }, font: { family: '"Liberation Mono"', size: 41, lineHeight: 1.05 } }
      },
      y: {
        type: 'linear',
        min: -87.5,
        max: 87.5,
        afterBuildTicks: s => { s.ticks = latLabels.map(v => ({ value: v })); },
        afterFit: s => { s.width = 145; noOverhang(s); },
        grid: { display: false },
        border: { display: false },
        ticks: { color: '#000', padding: 16, labelOffset: 3, autoSkip: false, font: { family: '"Liberation Sans"', size: 33 }, callback: v => String(v) },
        title: { display: true, text: 'LATITUDE (DEG)', color: '#000', padding: { top: 4, bottom: 0 }, font: { family: '"Liberation Sans"', size: 33.4 } }
      }
    }
  }
});
</script>
</body>
</html>
